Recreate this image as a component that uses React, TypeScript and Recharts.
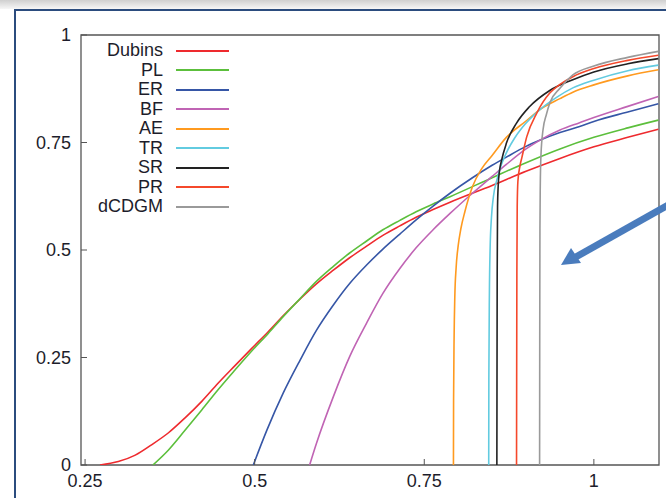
import React from "react"
import { LineChart, Line, XAxis, YAxis, ReferenceArea, Legend } from "recharts"

// [x, y] points, one array per method
const dubins = [
  [0.272, 0], [0.299, 0.008], [0.324, 0.023], [0.348, 0.047], [0.373, 0.075], [0.397, 0.109], [0.422, 0.148],
  [0.446, 0.19], [0.471, 0.231], [0.495, 0.27], [0.52, 0.31], [0.542, 0.347], [0.567, 0.386], [0.591, 0.421],
  [0.616, 0.453], [0.64, 0.482], [0.665, 0.509], [0.689, 0.534], [0.714, 0.556], [0.738, 0.576],
  [0.763, 0.594], [0.788, 0.611], [0.85, 0.65], [0.9, 0.683], [0.95, 0.713], [1.0, 0.74], [1.05, 0.762],
  [1.095, 0.781],
]
const pl = [
  [0.35, 0], [0.373, 0.035], [0.397, 0.08], [0.422, 0.128], [0.446, 0.175], [0.471, 0.221], [0.495, 0.264],
  [0.52, 0.306], [0.542, 0.345], [0.567, 0.387], [0.591, 0.427], [0.616, 0.462], [0.64, 0.493], [0.665, 0.521],
  [0.689, 0.547], [0.714, 0.569], [0.738, 0.589], [0.763, 0.607], [0.788, 0.624], [0.85, 0.668], [0.9, 0.703],
  [0.95, 0.735], [1.0, 0.762], [1.05, 0.784], [1.095, 0.802],
]
const er = [
  [0.498, 0], [0.518, 0.081], [0.542, 0.167], [0.567, 0.244], [0.591, 0.313], [0.616, 0.372], [0.64, 0.422],
  [0.665, 0.465], [0.689, 0.502], [0.714, 0.537], [0.738, 0.57], [0.763, 0.602], [0.788, 0.632], [0.821, 0.668],
  [0.85, 0.697], [0.871, 0.716], [0.9, 0.741], [0.92, 0.755], [0.95, 0.773], [0.979, 0.787], [1.0, 0.799],
  [1.05, 0.821], [1.095, 0.84],
]
const bf = [
  [0.581, 0], [0.591, 0.05], [0.616, 0.159], [0.64, 0.252], [0.665, 0.33], [0.689, 0.399], [0.714, 0.457],
  [0.738, 0.505], [0.763, 0.547], [0.788, 0.585], [0.821, 0.632], [0.85, 0.671], [0.871, 0.699], [0.9, 0.735],
  [0.92, 0.755], [0.95, 0.779], [0.979, 0.796], [1.0, 0.808], [1.05, 0.834], [1.095, 0.857],
]
const ae = [
  [0.793, 0], [0.7932, 0.15], [0.794, 0.3], [0.795, 0.39], [0.797, 0.46], [0.8, 0.51], [0.804, 0.55],
  [0.81, 0.59], [0.821, 0.647], [0.835, 0.69], [0.85, 0.72], [0.871, 0.762], [0.9, 0.8], [0.92, 0.826],
  [0.95, 0.852], [0.969, 0.867], [1.0, 0.884], [1.05, 0.905], [1.095, 0.919],
]
const tr = [
  [0.845, 0], [0.8452, 0.2], [0.846, 0.4], [0.847, 0.5], [0.849, 0.575], [0.852, 0.625], [0.857, 0.663],
  [0.864, 0.7], [0.871, 0.726], [0.883, 0.76], [0.895, 0.786], [0.92, 0.826], [0.945, 0.855],
  [0.969, 0.877], [1.0, 0.895], [1.05, 0.917], [1.095, 0.93],
]
const sr = [
  [0.857, 0], [0.8572, 0.2], [0.8575, 0.45], [0.858, 0.6], [0.859, 0.65], [0.861, 0.685], [0.864, 0.709],
  [0.871, 0.748], [0.886, 0.795], [0.905, 0.833], [0.935, 0.871], [0.969, 0.896], [1.0, 0.914],
  [1.05, 0.933], [1.095, 0.945],
]
const pr = [
  [0.886, 0], [0.8862, 0.2], [0.8865, 0.45], [0.887, 0.6], [0.888, 0.66], [0.891, 0.695], [0.894, 0.716],
  [0.901, 0.763], [0.916, 0.819], [0.935, 0.865], [0.95, 0.885], [0.969, 0.903], [1.0, 0.922],
  [1.05, 0.941], [1.095, 0.953],
]
const dcdgm = [
  [0.92, 0], [0.9202, 0.3], [0.9205, 0.55], [0.921, 0.65], [0.922, 0.72], [0.925, 0.779], [0.93, 0.815],
  [0.935, 0.842], [0.95, 0.876], [0.969, 0.907], [1.0, 0.928], [1.05, 0.948], [1.095, 0.962],
]

const names = ["Dubins", "PL", "ER", "BF", "AE", "TR", "SR", "PR", "dCDGM"]
const colors = ["#ee2a2e", "#5cbf3c", "#3656a6", "#c064b4", "#ff9a1f", "#62cbe0", "#222222", "#f5482b", "#9a9a9a"]
const seriesData = [dubins, pl, er, bf, ae, tr, sr, pr, dcdgm]

const xTicks = [0.25, 0.5, 0.75, 1]
const yTicks = [0, 0.25, 0.5, 0.75, 1]

const FONT = "'Liberation Sans', Arial, Helvetica, sans-serif"
const TXT = "#1d1d2b"

const XTick = ({ x, y, payload }: any) => (
  <g>
    <line x1={x} x2={x} y1={y} y2={y - 6} stroke="#555" />
    <text x={x} y={y + 22} textAnchor="middle" fontSize={18} fontFamily={FONT} fill={TXT}>
      {payload.value}
    </text>
  </g>
)

const YTick = ({ x, y, payload }: any) => (
  <g>
    <line x1={x} x2={x + 6} y1={y} y2={y} stroke="#555" />
    <text x={x - 10} y={y + 6} textAnchor="end" fontSize={18} fontFamily={FONT} fill={TXT}>
      {payload.value}
    </text>
  </g>
)

const KeyBox = () => (
  <div style={{ fontFamily: FONT, fontSize: 18, color: TXT }}>
    {names.map((n, i) => (
      <div key={n} style={{ display: "flex", alignItems: "center", height: 19.5 }}>
        <span style={{ width: 75, textAlign: "right", lineHeight: "19.5px" }}>{n}</span>
        <span style={{ marginLeft: 13, width: 53, borderTop: `2px solid ${colors[i]}` }} />
      </div>
    ))}
  </div>
)

export default function App() {
  return (
    <div style={{ position: "absolute", left: 0, top: 0, width: 666, height: 498, overflow: "hidden", background: "#fff" }}>
      <div style={{ position: "absolute", left: 0, top: 0, width: 666, height: 9, background: "linear-gradient(#cfcfcf, #f7f7f7)" }} />
      <div
        style={{
          position: "absolute", left: 14, top: 9, width: 700, height: 600,
          borderLeft: "2px solid #2b4c7e", borderTop: "2px solid #2b4c7e",
        }}
      />
      <div style={{ position: "absolute", left: 0, top: 0 }}>
        <LineChart width={666} height={498} margin={{ top: 35, right: 7, left: 0, bottom: 0 }}>
          <XAxis
            type="number" dataKey="x" domain={[0.244, 1.096]} ticks={xTicks} allowDataOverflow
            axisLine={false} tickLine={false} tickSize={0} tickMargin={0} height={33} tick={<XTick />}
          />
          <YAxis
            type="number" domain={[0, 1]} ticks={yTicks} allowDataOverflow
            axisLine={false} tickLine={false} tickSize={0} tickMargin={0} width={81} tick={<YTick />}
          />
          <ReferenceArea x1={0.244} x2={1.096} y1={0} y2={1} fill="none" stroke="#555" strokeWidth={1.3} />
          <Legend
            layout="vertical" align="center" verticalAlign="middle"
            wrapperStyle={{ left: 88, top: 41, width: 150 }} content={<KeyBox />}
          />
          {seriesData.map((pts, i) => (
            <Line
              key={names[i]} name={names[i]} data={pts.map(([x, y]) => ({ x, y }))} dataKey="y"
              type="monotone" stroke={colors[i]} strokeWidth={1.6} dot={false} isAnimationActive={false}
            />
          ))}
        </LineChart>
      </div>
      <svg width={666} height={498} style={{ position: "absolute", left: 0, top: 0, pointerEvents: "none" }}>
        <line x1={670} y1={204} x2={574} y2={258} stroke="#4a7cbd" strokeWidth={7} />
        <polygon points="561,265 571,248 581,263" fill="#4a7cbd" />
      </svg>
    </div>
  )
}
